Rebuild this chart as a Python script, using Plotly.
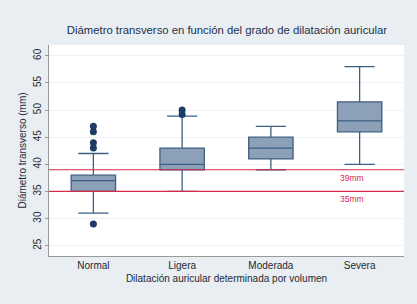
import plotly.graph_objects as go

categories = ["Normal", "Ligera", "Moderada", "Severa"]
q1 = [35, 39, 41, 46]
median = [37, 40, 43, 48]
q3 = [38, 43, 45, 51.5]
lower_whisker = [31, 35, 39, 40]
upper_whisker = [42, 48.9, 47, 58]
outlier_cat = ["Normal", "Normal", "Normal", "Normal", "Normal", "Ligera", "Ligera"]
outlier_val = [47, 46, 44, 43, 29, 49.2, 50]
ref_values = [39, 35]
ref_labels = ["39mm", "35mm"]

FONT = "Liberation Sans, Arial, Helvetica, sans-serif"
BOX_FILL = "#8ca1b8"
BOX_LINE = "#3d5f82"
DOT = "#1b3d63"
RED = "#d42b48"

fig = go.Figure()
fig.add_trace(go.Box(
    x=categories, q1=q1, median=median, q3=q3,
    lowerfence=lower_whisker, upperfence=upper_whisker,
    fillcolor=BOX_FILL, line=dict(color=BOX_LINE, width=1.3),
    whiskerwidth=0.68, width=0.5, boxpoints=False, showlegend=False,
    hoverinfo="skip",
))
fig.add_trace(go.Scatter(
    x=outlier_cat, y=outlier_val, mode="markers",
    marker=dict(color=DOT, size=7), showlegend=False, hoverinfo="skip",
))
for v, lab in zip(ref_values, ref_labels):
    fig.add_hline(y=v, line=dict(color=RED, width=1.2), layer="above")
    fig.add_annotation(x="Severa", y=v, text=lab, showarrow=False,
                       yshift=-8, xshift=-8, font=dict(color=RED, size=8.5, family=FONT))

fig.update_layout(
    width=417, height=304,
    margin=dict(l=49, r=13, t=45, b=48),
    paper_bgcolor="#e8eef2", plot_bgcolor="#ffffff",
    font=dict(family=FONT, color="#1f2a36", size=10),
    title=dict(text="Diámetro transverso en función del grado de dilatación auricular",
               x=227 / 417, xanchor="center", xref="container",
               y=1 - 30 / 304, yanchor="middle",
               yref="container", font=dict(size=11.3, color="#22304a", family=FONT)),
    xaxis=dict(type="category", range=[-0.5, 3.5], showgrid=False, automargin=False,
               showline=True, linecolor="#999999", linewidth=1.2, ticks="",
               tickfont=dict(size=10), title=dict(text="Dilatación auricular determinada por volumen",
                                                  font=dict(size=10), standoff=4)),
    yaxis=dict(range=[23.1, 62], tickvals=[25, 30, 35, 40, 45, 50, 55, 60], tickangle=-90,
               showgrid=True, gridcolor="#eef1f4", gridwidth=1, zeroline=False, automargin=False,
               showline=True, linecolor="#999999", linewidth=1, ticks="outside",
               ticklen=3, tickcolor="#999999", tickfont=dict(size=10),
               title=dict(text="Diámetro transverso (mm)", font=dict(size=10), standoff=3)),
)

fig.write_html("out.html", config={"displayModeBar": False},
               post_script="document.body.style.margin='0';document.body.style.background='#e8eef2';")
